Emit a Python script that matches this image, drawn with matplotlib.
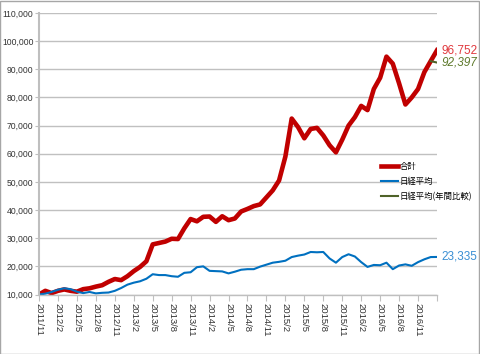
import numpy
import pandas as pd
import matplotlib
matplotlib.use('Agg')
import matplotlib.pyplot as plt
from matplotlib.patches import Rectangle

# monthly values, 2011/11 .. 2017/2
start_month = '2011-11'
total = [10000, 11300, 10500, 11300, 11800, 11300, 11000, 11900, 12200, 12800,
         13300, 14500, 15500, 15100, 16500, 18300, 19800, 21800, 27800, 28300,
         28800, 29800, 29700, 33500, 36800, 36000, 37600, 37700, 35800, 37800,
         36400, 37000, 39500, 40400, 41400, 42000, 44500, 47000, 50500, 59000,
         72500, 69500, 65500, 68800, 69200, 66500, 63000, 60500, 65000, 70000,
         73000, 77000, 75500, 83000, 87000, 94500, 92000, 85000, 77500, 80000,
         83000, 89000, 92900, 96752]
nikkei = [10000, 10300, 10900, 11700, 12200, 11900, 11000, 10500, 10900, 10400,
          10600, 10700, 11300, 12300, 13500, 14200, 14700, 15600, 17200, 16900,
          16900, 16500, 16300, 17700, 17900, 19700, 20000, 18400, 18300, 18200,
          17500, 18100, 18800, 19000, 19000, 19900, 20600, 21300, 21600, 22000,
          23300, 23800, 24200, 25100, 25000, 25100, 22800, 21300, 23300, 24300,
          23500, 21500, 19800, 20500, 20400, 21300, 19000, 20300, 20700, 20200,
          21500, 22500, 23300, 23335]
nikkei_yoy_idx = [62, 63]
nikkei_yoy = [92900, 92397]

names = ['合計', '日経平均', '日経平均(年間比較)']
colors = ['#c00000', '#0070c0', '#4f6228']
label_colors = ['#e0393e', '#3a8fd4', '#5e7a2c']

months = pd.period_range(start_month, periods=len(total), freq='M')
month_labels = [f"{p.year}/{p.month}" for p in months]
x_vals = numpy.arange(len(total))

plt.rcParams['font.family'] = ['Liberation Sans', 'Noto Sans CJK JP']

fig = plt.figure(figsize=(4.8, 3.54), dpi=100)
ax = fig.add_axes([39/480, 1-294.5/354, (437-39)/480, (294.5-13)/354])

ax.plot(x_vals, total, color=colors[0], linewidth=3.3, label=names[0])
ax.plot(x_vals, nikkei, color=colors[1], linewidth=1.5, label=names[1])
ax.plot(nikkei_yoy_idx, nikkei_yoy, color=colors[2], linewidth=1.5, label=names[2])

ax.set_xlim(0, len(total)-1)
ax.set_ylim(10000, 110000)
ax.set_yticks(numpy.arange(10000, 110001, 10000))
ax.set_yticklabels([f"{v:,}" for v in range(10000, 110001, 10000)])
tick_pos = list(range(0, len(total), 3))
ax.set_xticks(tick_pos)
ax.set_xticklabels([month_labels[i] if i < len(total)-3 else '' for i in tick_pos], rotation=-90)
ax.tick_params(axis='x', length=4, color='#bfbfbf', labelsize=6.8, labelcolor='#333333', pad=2)
ax.tick_params(axis='y', length=3, color='#bfbfbf', labelsize=6.2, labelcolor='#333333', pad=1)

ax.grid(True, axis='y', color='#c0c0c0', linewidth=1)
ax.set_axisbelow(True)
for s in ['top', 'right']:
    ax.spines[s].set_visible(False)
ax.spines['left'].set_color('#bfbfbf')
ax.spines['left'].set_linewidth(1.5)
ax.spines['bottom'].set_color('#bfbfbf')
ax.spines['bottom'].set_linewidth(1)

# end-of-line value labels
ends = [(total[-1], False), (nikkei_yoy[-1], True), (nikkei[-1], False)]
for (val, ital), c in zip(ends, [label_colors[0], label_colors[2], label_colors[1]]):
    ax.annotate(f"{val:,}", xy=(len(total)-1, val), xytext=(3.5, 0), textcoords='offset points',
                va='center', ha='left', fontsize=8.5, color=c, style='italic' if ital else 'normal',
                annotation_clip=False)

leg = ax.legend(loc='upper left', bbox_to_anchor=(377/480, 1-158/354), bbox_transform=fig.transFigure,
                frameon=False, prop={'family': 'Noto Sans CJK JP', 'size': 6},
                handlelength=2.0, handletextpad=0.2, labelspacing=0.7, borderpad=0)

fig.patches.append(Rectangle((0.001, 0.001), 0.997, 0.996, transform=fig.transFigure,
                             fill=False, edgecolor='#a6a6a6', linewidth=1))

plt.savefig('out.png', dpi=100)
plt.close()
